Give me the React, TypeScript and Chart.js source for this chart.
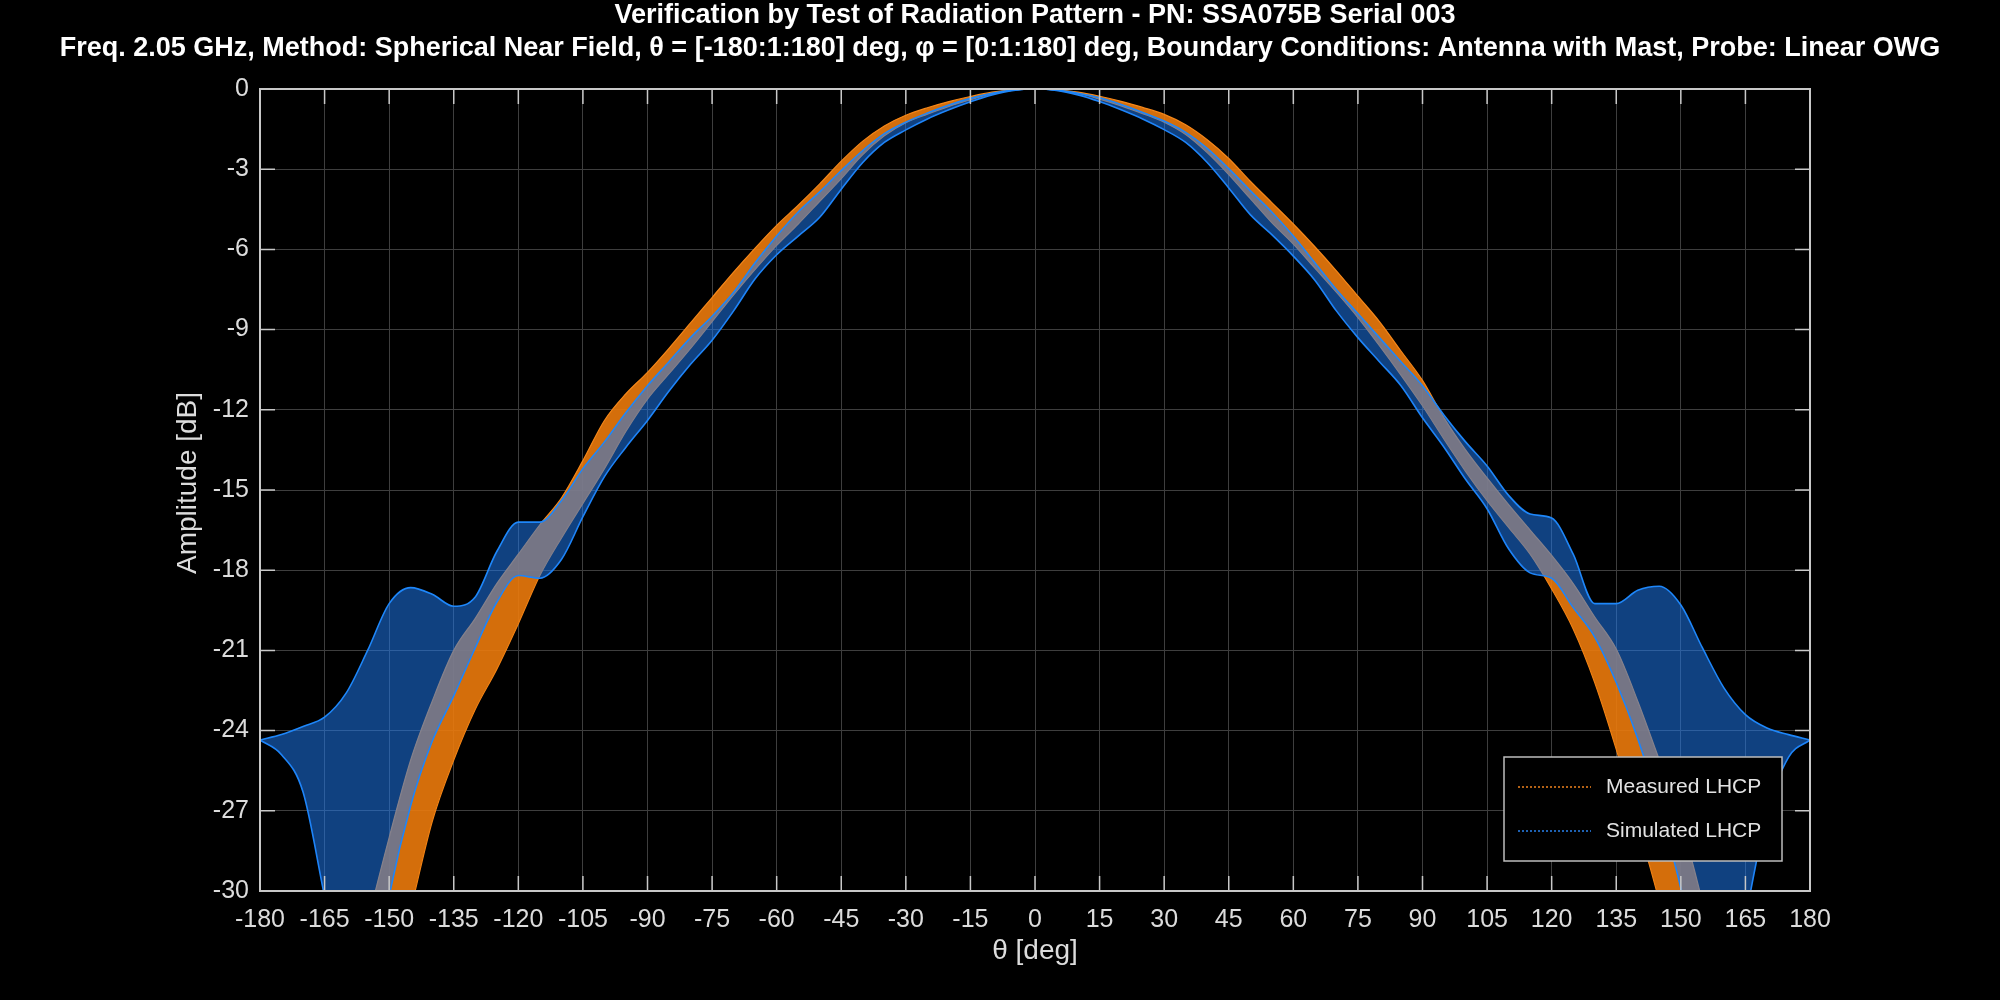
import { useEffect, useRef } from 'react'
import { Chart } from 'chart.js/auto'

// theta cut positions [deg]
const thetaDeg = [
  -180, -175, -170, -165, -160, -155, -150, -145, -140, -135, -130, -125, -120, -115, -110, -105,
  -100, -95, -90, -85, -80, -75, -70, -65, -60, -55, -50, -45, -40, -35, -30, -25, -20, -15, -10, -5,
  0, 5, 10, 15, 20, 25, 30, 35, 40, 45, 50, 55, 60, 65, 70, 75, 80, 85, 90, 95, 100, 105, 110, 115,
  120, 125, 130, 135, 140, 145, 150, 155, 160, 165, 170, 175, 180,
]

// measured LHCP, envelope over all phi cuts [dB] (below -30 = off the axis)
const measuredUpper = [
  -40, -40, -40, -40, -35, -31.2, -28.0, -25.1, -22.9, -21.0, -19.8, -18.5, -17.4, -16.3, -15.3, -13.9,
  -12.4, -11.4, -10.6, -9.7, -8.75, -7.8, -6.85, -5.95, -5.1, -4.35, -3.55, -2.7, -1.95, -1.38, -0.98, -0.7, -0.47, -0.28, -0.12, -0.03,
  0, -0.03, -0.12, -0.27, -0.46, -0.69, -0.95, -1.34, -1.9, -2.6, -3.45, -4.25, -5.05, -5.9, -6.8, -7.75, -8.7, -9.8, -10.9, -12.3, -13.5, -14.55, -15.55, -16.5,
  -17.45, -18.5, -19.75, -20.95, -22.9, -25.1, -27.4, -30.4, -34, -40, -40, -40, -40,
]
const measuredLower = [
  -40, -40, -40, -40, -40, -40, -34, -30.7, -27.4, -25.1, -23.2, -21.7, -20.0, -18.2, -16.8, -15.5,
  -14.2, -12.8, -11.6, -10.65, -9.7, -8.7, -7.7, -6.75, -5.85, -5.05, -4.2, -3.35, -2.45, -1.75, -1.26, -0.94, -0.65, -0.4, -0.17, -0.04,
  0, -0.04, -0.16, -0.38, -0.63, -0.92, -1.24, -1.7, -2.38, -3.2, -4.1, -5.0, -5.8, -6.7, -7.6, -8.55, -9.6, -10.7, -11.85, -13.1, -14.3, -15.4, -16.4, -17.4,
  -18.7, -20.2, -22.2, -24.7, -27.5, -30.4, -34, -40, -40, -40, -40, -40, -40,
]

// simulated LHCP, envelope over all phi cuts [dB]
const simulatedUpper = [
  -24.35, -24.15, -23.85, -23.5, -22.6, -21.0, -19.25, -18.65, -18.9, -19.35, -19.0, -17.3, -16.2, -16.2, -15.4, -14.2,
  -13.2, -12.1, -11.1, -10.2, -9.3, -8.5, -7.6, -6.5, -5.5, -4.6, -3.85, -3.05, -2.3, -1.67, -1.24, -0.9, -0.6, -0.35, -0.16, -0.04,
  0, -0.04, -0.16, -0.33, -0.58, -0.88, -1.2, -1.62, -2.22, -2.98, -3.8, -4.6, -5.5, -6.5, -7.5, -8.4, -9.3, -10.2, -11.1, -12.2, -13.2, -14.1, -15.2, -15.9,
  -16.05, -17.4, -19.25, -19.25, -18.75, -18.6, -19.3, -20.9, -22.4, -23.4, -23.9, -24.15, -24.35,
]
const simulatedLower = [
  -24.35, -24.9, -26.3, -30.2, -34, -35, -30.2, -26.8, -24.4, -22.7, -20.9, -19.2, -18.2, -18.3, -17.6, -16.0,
  -14.5, -13.4, -12.4, -11.3, -10.3, -9.4, -8.3, -7.1, -6.2, -5.5, -4.8, -3.75, -2.75, -2.0, -1.53, -1.12, -0.78, -0.48, -0.22, -0.05,
  0, -0.05, -0.22, -0.47, -0.78, -1.12, -1.52, -2.0, -2.75, -3.7, -4.7, -5.45, -6.25, -7.15, -8.3, -9.3, -10.2, -11.1, -12.3, -13.4, -14.6, -15.7, -17.2, -18.1,
  -18.3, -19.4, -20.5, -22.2, -24.3, -26.9, -29.9, -34, -35, -31, -27.1, -25.0, -24.35,
]

const titleLines = [
  'Verification by Test of Radiation Pattern - PN: SSA075B Serial 003',
  'Freq. 2.05 GHz, Method: Spherical Near Field, θ = [-180:1:180] deg, φ = [0:1:180] deg, Boundary Conditions: Antenna with Mast, Probe: Linear OWG',
]
const legendItems = [
  { label: 'Measured LHCP', color: 'rgb(240,130,30)' },
  { label: 'Simulated LHCP', color: 'rgb(40,130,240)' },
]

const FONT = '"Liberation Sans", Arial, sans-serif'
const ORANGE_LINE = 'rgb(245,135,25)'
const ORANGE_FILL = 'rgba(235,122,12,0.9)'
const BLUE_LINE = 'rgb(30,135,250)'
const BLUE_FILL = 'rgba(30,125,245,0.52)'

const pts = (vals: number[]) => thetaDeg.map((t, i) => ({ x: t, y: vals[i] }))

const framePlugin = {
  id: 'frame',
  beforeDraw(chart: any) {
    const { ctx, width, height } = chart
    ctx.save()
    ctx.fillStyle = '#000'
    ctx.fillRect(0, 0, width, height)
    ctx.restore()
  },
  afterDatasetsDraw(chart: any) {
    const ctx = chart.ctx
    const { left, right, top, bottom } = chart.chartArea
    const xs = chart.scales.x
    const ys = chart.scales.y

    // inward tick marks and the box
    ctx.save()
    ctx.strokeStyle = '#c8c8c8'
    ctx.lineWidth = 1.5
    ctx.beginPath()
    xs.ticks.forEach((t: any) => {
      const px = xs.getPixelForValue(t.value)
      ctx.moveTo(px, bottom)
      ctx.lineTo(px, bottom - 15)
      ctx.moveTo(px, top)
      ctx.lineTo(px, top + 15)
    })
    ys.ticks.forEach((t: any) => {
      const py = ys.getPixelForValue(t.value)
      ctx.moveTo(left, py)
      ctx.lineTo(left + 15, py)
      ctx.moveTo(right, py)
      ctx.lineTo(right - 15, py)
    })
    ctx.stroke()
    ctx.lineWidth = 2
    ctx.strokeRect(left, top, right - left, bottom - top)

    // legend
    const bw = 278
    const bh = 104
    const bx = right - 28 - bw
    const by = bottom - 30 - bh
    ctx.fillStyle = '#000'
    ctx.fillRect(bx, by, bw, bh)
    ctx.strokeStyle = '#bdbdbd'
    ctx.lineWidth = 1.5
    ctx.strokeRect(bx, by, bw, bh)
    ctx.font = `21px ${FONT}`
    ctx.textBaseline = 'middle'
    ctx.textAlign = 'left'
    legendItems.forEach((item, i) => {
      const ly = by + 30 + i * 44
      ctx.strokeStyle = item.color
      ctx.lineWidth = 1.5
      ctx.setLineDash([2, 2])
      ctx.beginPath()
      ctx.moveTo(bx + 14, ly)
      ctx.lineTo(bx + 87, ly)
      ctx.stroke()
      ctx.setLineDash([])
      ctx.fillStyle = '#e2e2e2'
      ctx.fillText(item.label, bx + 102, ly)
    })
    ctx.restore()
  },
  afterDraw(chart: any) {
    const ctx = chart.ctx
    const { left, right } = chart.chartArea
    const cx = (left + right) / 2
    ctx.save()
    ctx.fillStyle = '#fff'
    ctx.textAlign = 'center'
    ctx.textBaseline = 'middle'
    ctx.font = `bold 27px ${FONT}`
    ctx.fillText(titleLines[0], cx, 16)
    ctx.fillText(titleLines[1], chart.width / 2, 49)

    ctx.fillStyle = '#dcdcdc'
    ctx.font = `28px ${FONT}`
    ctx.fillText('θ [deg]', cx, 951)
    ctx.translate(188, 483)
    ctx.rotate(-Math.PI / 2)
    ctx.fillText('Amplitude [dB]', 0, 0)
    ctx.restore()
  },
}

const RadiationChart = () => {
  const canvasRef = useRef<HTMLCanvasElement>(null)

  useEffect(() => {
    document.body.style.margin = '0'
    document.body.style.background = '#000'

    const line = {
      pointRadius: 0,
      cubicInterpolationMode: 'monotone' as const,
    }

    // simulated first so it is drawn over the measured band
    const chart = new Chart(canvasRef.current!, {
      type: 'line',
      data: {
        datasets: [
          {
            ...line,
            label: 'Simulated LHCP',
            data: pts(simulatedUpper),
            borderColor: BLUE_LINE,
            borderWidth: 1.6,
            backgroundColor: BLUE_FILL,
            fill: '+1',
          },
          {
            ...line,
            label: 'Simulated LHCP (min)',
            data: pts(simulatedLower),
            borderColor: BLUE_LINE,
            borderWidth: 1.6,
            fill: false,
          },
          {
            ...line,
            label: 'Measured LHCP',
            data: pts(measuredUpper),
            borderColor: ORANGE_LINE,
            borderWidth: 1.2,
            backgroundColor: ORANGE_FILL,
            fill: '+1',
          },
          {
            ...line,
            label: 'Measured LHCP (min)',
            data: pts(measuredLower),
            borderColor: ORANGE_LINE,
            borderWidth: 1.2,
            fill: false,
          },
        ],
      },
      options: {
        animation: false,
        responsive: true,
        maintainAspectRatio: false,
        layout: { padding: { top: 89, right: 190, left: 0, bottom: 0 } },
        plugins: {
          legend: { display: false },
          title: { display: false },
          tooltip: { enabled: false },
        },
        scales: {
          x: {
            type: 'linear',
            min: -180,
            max: 180,
            ticks: {
              stepSize: 15,
              color: '#dcdcdc',
              font: { family: FONT, size: 25 },
              padding: 14,
              maxRotation: 0,
              autoSkip: false,
            },
            grid: { color: '#3e3e3e', lineWidth: 1, drawTicks: false },
            border: { display: false },
            afterFit(scale: any) {
              scale.height = 109
            },
          },
          y: {
            type: 'linear',
            min: -30,
            max: 0,
            ticks: {
              stepSize: 3,
              color: '#dcdcdc',
              font: { family: FONT, size: 25 },
              padding: 11,
            },
            grid: { color: '#3e3e3e', lineWidth: 1, drawTicks: false },
            border: { display: false },
            afterFit(scale: any) {
              scale.width = 260
            },
          },
        },
      },
      plugins: [framePlugin],
    })

    return () => chart.destroy()
  }, [])

  return (
    <div style={{ width: 2000, height: 1000, background: '#000' }}>
      <canvas ref={canvasRef}></canvas>
    </div>
  )
}

export default function App() {
  return <RadiationChart />
}
